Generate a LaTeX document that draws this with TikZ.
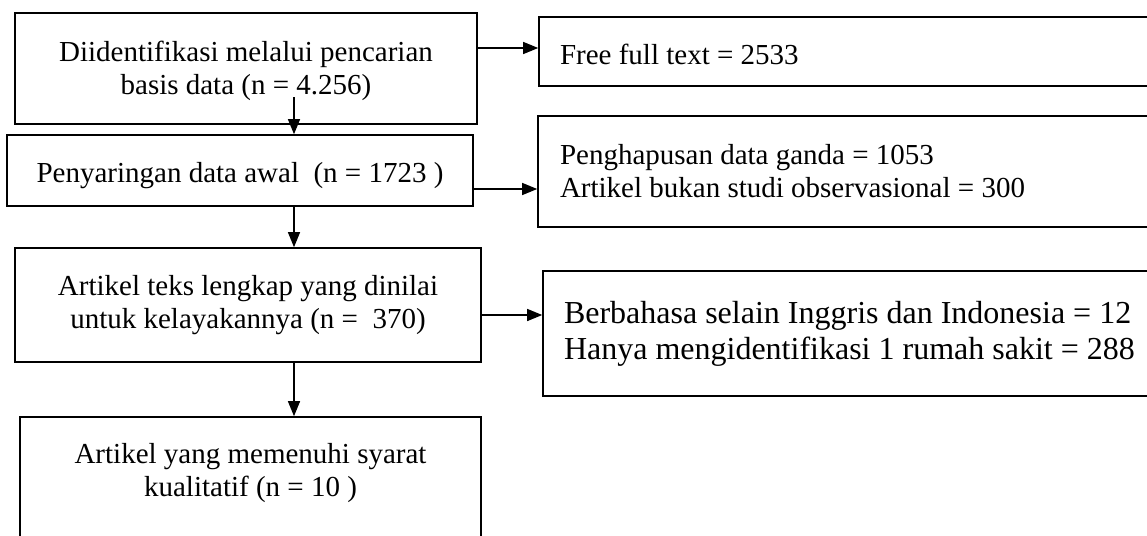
\documentclass[tikz,border=0pt]{standalone}
\usepackage{fontspec}
\setmainfont{Liberation Serif}
\usetikzlibrary{arrows.meta}
\newcommand{\hstrut}[1]{\rule{0pt}{#1}}
\newcommand{\dstrut}[1]{\rule[-#1]{0pt}{#1}}
\begin{document}
\begin{tikzpicture}[x=1pt,y=-1pt,
  box/.style={draw,line width=1.6pt,inner sep=0pt,align=center,
    font=\fontsize{29}{33}\selectfont},
  rbox/.style={draw,line width=1.6pt,inner ysep=0pt,align=flush left,
    font=\fontsize{29}{33}\selectfont},
  arr/.style={line width=1.3pt,-{Triangle[length=15pt,width=12pt]}}]
\useasboundingbox (0,0) rectangle (1147,535);
\node[box,minimum width=462pt,minimum height=111pt] (b1) at (246,68.5)
  {\hstrut{25pt}Diidentifikasi melalui pencarian\\basis data (n = 4.256)};
\node[rbox,inner xsep=21pt,text width=619pt,minimum height=69pt] (b2) at (869.5,51.5)
  {\hstrut{27pt}Free full text = 2533};
\node[box,minimum width=466pt,minimum height=71pt] (b3) at (240,170.5)
  {\hstrut{30pt}Penyaringan data awal\ \ (n = 1723 )};
\node[rbox,inner xsep=22pt,text width=618pt,minimum height=111pt] (b4) at (869,171.5)
  {Penghapusan data ganda = 1053\\Artikel bukan studi observasional = 300};
\node[box,minimum width=466pt,minimum height=114pt] (b5) at (248,305)
  {Artikel teks lengkap yang dinilai\\untuk kelayakannya (n =\ \ 370)};
\node[rbox,inner xsep=21pt,text width=615pt,minimum height=125pt,
  font=\fontsize{32}{36}\selectfont] (b6) at (871.5,333.5)
  {Berbahasa selain Inggris dan Indonesia = 12\\Hanya mengidentifikasi 1 rumah sakit = 288};
\node[box,minimum width=461pt,minimum height=128pt] (b7) at (250.5,481)
  {Artikel yang memenuhi syarat\\kualitatif (n = 10 )\dstrut{22pt}};
\coordinate (a1) at (294,97);
\draw[arr] (a1) -- (b3.north -| a1);
\draw[arr] (b3.south -| a1) -- (b5.north -| a1);
\draw[arr] (b5.south -| a1) -- (b7.north -| a1);
\draw[arr] (b1.east |- 0,48) -- (b2.west |- 0,48);
\draw[arr] (b3.east |- 0,189) -- (b4.west |- 0,189);
\draw[arr] (b5.east |- 0,315) -- (b6.west |- 0,315);
\end{tikzpicture}
\end{document}
